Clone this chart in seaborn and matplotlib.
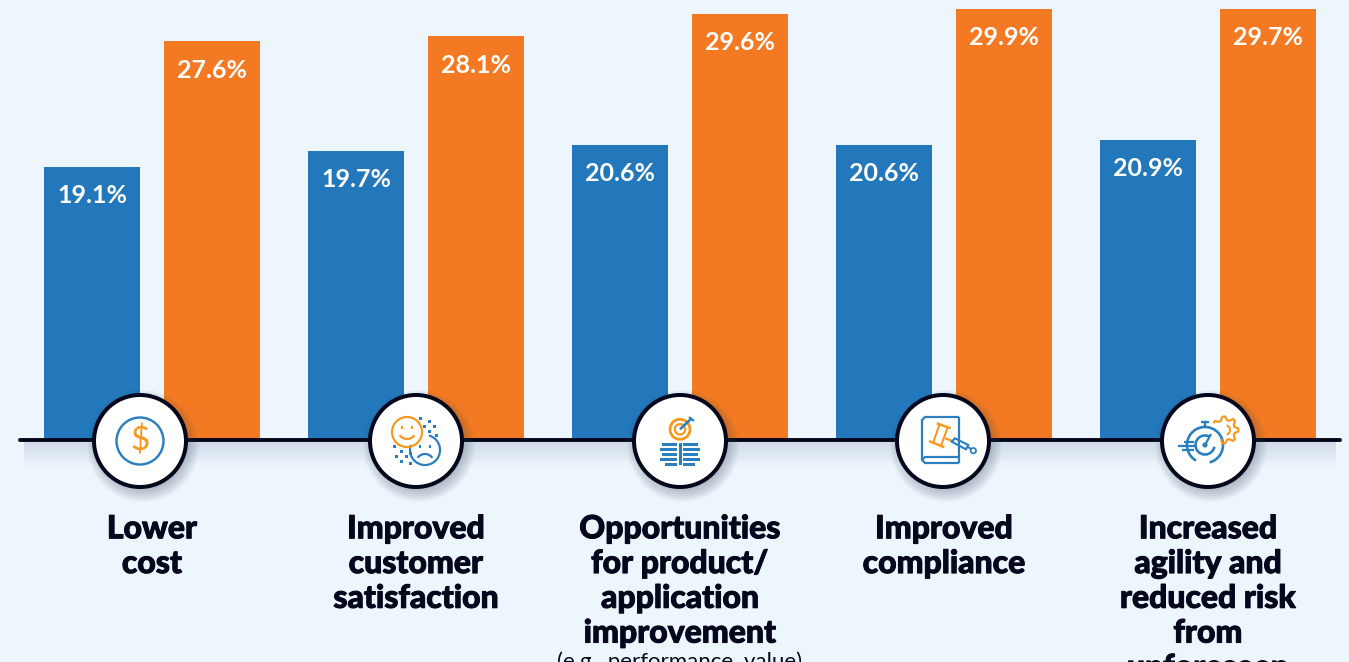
import numpy as np
import pandas as pd
import matplotlib
matplotlib.use('Agg')
import matplotlib.pyplot as plt
import matplotlib.patheffects as pe
import seaborn as sns
from matplotlib.patches import Circle, Arc, Rectangle, Polygon
from matplotlib.transforms import Affine2D

# dados do grafico
categorias = ['Lower\ncost', 'Improved\ncustomer\nsatisfaction',
              'Opportunities\nfor product/\napplication\nimprovement',
              'Improved\ncompliance',
              'Increased\nagility and\nreduced risk\nfrom\nunforeseen']
# alturas lidas das barras (no original nem todas batem com o rotulo impresso)
altura_a = [18.95, 20.05, 20.45, 20.45, 20.8]
altura_b = [27.65, 28.0, 29.55, 29.9, 29.9]
# rotulos impressos
rotulos_a = ['19.1%', '19.7%', '20.6%', '20.6%', '20.9%']
rotulos_b = ['27.6%', '28.1%', '29.6%', '29.9%', '29.7%']
nota = '(e.g., performance, value)'

AZUL = '#2278BA'
LARANJA = '#F37A22'
FUNDO = '#EEF6FD'
PRETO = '#05071C'
AZUL_I = '#2A7FC1'
LARANJA_I = '#F7981D'

tabela = pd.DataFrame({'cat': categorias * 2,
                       'serie': ['a'] * 5 + ['b'] * 5,
                       'valor': altura_a + altura_b})

sns.set_style('white')
plt.rcParams['font.family'] = ['Lato', 'DejaVu Sans']

fig = plt.figure(figsize=(13.49, 6.62), dpi=100, facecolor=FUNDO)
ax = fig.add_axes([0, 222 / 662, 1, 440 / 662], facecolor=FUNDO)

sns.barplot(data=tabela, x='cat', y='valor', hue='serie',
            palette=[AZUL, LARANJA], width=0.909, gap=0.2, linewidth=0,
            saturation=1, legend=False, ax=ax)

ax.set_xlim(-152 / 264, 1197 / 264)
ax.set_ylim(0, 440 / 14.42)
ax.set_xlabel('')
ax.set_ylabel('')
ax.set_yticks([])
ax.tick_params(axis='x', length=0, pad=53.5)
for lab in ax.get_xticklabels():
    lab.set_fontsize(23)
    lab.set_fontweight(900)
    lab.set_color(PRETO)
    lab.set_linespacing(1.24)
    lab.set_path_effects([pe.withStroke(linewidth=0.7, foreground=PRETO)])
sns.despine(ax=ax, left=True, bottom=True)

for c, rot in zip(ax.containers, [rotulos_a, rotulos_b]):
    ax.bar_label(c, labels=rot, padding=-29, color='white',
                 fontsize=18, fontweight='bold')

ax.annotate(nota, (2, 0), xytext=(0, -152), textcoords='offset points',
            ha='center', va='top', fontsize=16, color=PRETO,
            annotation_clip=False)


def local(i, dx=0):
    # transformacao: pixels relativos ao centro do icone, y para baixo
    px, py = ax.transData.transform((i, 0))
    return Affine2D().scale(1, -1).translate(px + dx, py - 1)


def linha(t, xs, ys, cor, lw=2.2):
    ax.plot(xs, ys, color=cor, lw=lw * 0.72, transform=t, zorder=7, clip_on=False,
            solid_capstyle='butt')


def add(t, p, z=7):
    p.set_transform(t)
    p.set_clip_on(False)
    p.set_zorder(z)
    ax.add_patch(p)


def anel(t, x, y, r, cor, lw=2.2):
    add(t, Circle((x, y), r, fill=False, ec=cor, lw=lw * 0.72))


def arco(t, x, y, r, a1, a2, cor, lw=2.2):
    add(t, Arc((x, y), 2 * r, 2 * r, theta1=a1, theta2=a2, ec=cor, lw=lw * 0.72))


def botao(t):
    for k in range(10):
        add(t, Circle((3, 5), 56 - k * 1.4, fc='#33445a', ec='none', alpha=0.035), 5)
    add(t, Circle((0, 0), 46, fc='white', ec=PRETO, lw=4 * 0.72), 6)


def icone_custo(t):
    anel(t, 0, 0, 23.5, AZUL_I, 2.4)
    ax.text(0, 0, '$', transform=t, ha='center', va='center', fontsize=24,
            color=LARANJA_I, zorder=7, clip_on=False)


def icone_clientes(t):
    arco(t, 9, 9, 15, -75, 200, AZUL_I)
    anel(t, -9, -9, 15, LARANJA_I)
    arco(t, -9, -11, 9, 35, 145, LARANJA_I)
    for ex in (-14, -4):
        add(t, Rectangle((ex - 1, -15), 2.4, 3, fc=LARANJA_I, ec='none'))
    for ex in (4, 14):
        add(t, Rectangle((ex - 1, 4), 2.4, 3, fc=AZUL_I, ec='none'))
    arco(t, 9, 22, 9, 215, 325, AZUL_I)
    pontos = [(5, -23), (14, -20), (9, -15), (19, -15), (14, -10), (21, -6),
              (-21, 5), (-14, 10), (-19, 15), (-9, 15), (-14, 20), (-5, 22), (-5, 12)]
    for x, y in pontos:
        add(t, Rectangle((x - 1.5, y - 1.5), 3, 3, fc=AZUL_I, ec='none'))


def icone_produto(t):
    anel(t, 0, -11.7, 10, LARANJA_I, 2.8)
    anel(t, 0, -11.7, 5.2, LARANJA_I, 2.2)
    linha(t, [0, 11.5], [-11.7, -22.5], AZUL_I, 2.6)
    linha(t, [9, 14], [-24, -20], AZUL_I, 2.2)
    add(t, Rectangle((-1.3, 2.3), 3.3, 22, fc=AZUL_I, ec='none'))
    yy = [2, 7, 12, 17, 21.5]
    compr = [15, 17, 15, 17, 12]
    for y, w in zip(yy, compr):
        add(t, Rectangle((-3 - w, y), w, 3, fc=AZUL_I, ec='none'))
        add(t, Rectangle((3.5, y), w, 3, fc=AZUL_I, ec='none'))


def icone_compliance(t):
    linha(t, [16, -18, -21, -21, -18, 16], [-24, -24, -21, 19, 22, 22], AZUL_I)
    linha(t, [16, 16], [-24, 22], AZUL_I)
    linha(t, [16, -18, -21], [16, 16, 19], AZUL_I)
    # martelo
    linha(t, [-6.3, 7.7], [-17.7, -12.7], LARANJA_I, 2.4)
    linha(t, [-14, 1.3], [0, 6.3], LARANJA_I, 2.4)
    linha(t, [-3.7, -9.7], [-16, 1.3], LARANJA_I, 2)
    linha(t, [4.7, -2], [-13.7, 4.7], LARANJA_I, 2)
    linha(t, [2, 8.7], [-2.7, -0.3], LARANJA_I, 2.2)
    add(t, Polygon([(8.7, 0.7), (12, -2.7), (25.3, 4), (23, 8.3)], closed=True,
                   fill=False, ec=AZUL_I, lw=1.5))
    linha(t, [25, 28], [6, 8], AZUL_I, 2)
    anel(t, 30.3, 9.7, 2.7, AZUL_I, 1.8)


def icone_agilidade(t):
    arco(t, -3, 4, 18, -240, 75, AZUL_I, 2.6)
    arco(t, -3, 4, 9.5, 10, 300, AZUL_I, 2.6)
    add(t, Circle((-3, 4), 2.6, fc=AZUL_I, ec='none'))
    linha(t, [-3, 3], [4, -7], AZUL_I, 2.2)
    linha(t, [-3, -3], [-14, -18], AZUL_I, 2.4)
    linha(t, [-7, 1], [-19, -19], AZUL_I, 2.4)
    for y, x0, x1 in [(1, -24, -14), (5, -30, -13), (9, -26, -14)]:
        linha(t, [x0, x1], [y, y], AZUL_I, 2.2)
    # engrenagem
    arco(t, 17, -11, 5, -70, 70, LARANJA_I, 2)
    ang = np.arange(-150, 125, 12)
    raio = [13.5 if k % 4 < 2 else 10 for k in range(len(ang))]
    gx = [17 + r * np.cos(np.deg2rad(a)) for a, r in zip(ang, raio)]
    gy = [-11 + r * np.sin(np.deg2rad(a)) for a, r in zip(ang, raio)]
    linha(t, gx, gy, LARANJA_I, 2.2)


# sombra da linha de base (so abaixo dela)
t0 = local(0)
px0 = ax.transData.transform((0, 0))[0]
for k in range(11):
    add(t0, Rectangle((24 - px0 + k * 0.0, 1), 1312, 3 + k * 2, fc='#33445a', ec='none', alpha=0.011), 2)
ax.axhline(0, xmin=20 / 1349, xmax=1340 / 1349, color=PRETO, lw=2.8, zorder=4,
           clip_on=False)

icones = [icone_custo, icone_clientes, icone_produto, icone_compliance, icone_agilidade]
desvios = [-12, 0, 0, -1, 0]
for i, (f, d) in enumerate(zip(icones, desvios)):
    t = local(i, d)
    botao(t)
    f(t)

fig.savefig('out.png', dpi=100, facecolor=FUNDO)
